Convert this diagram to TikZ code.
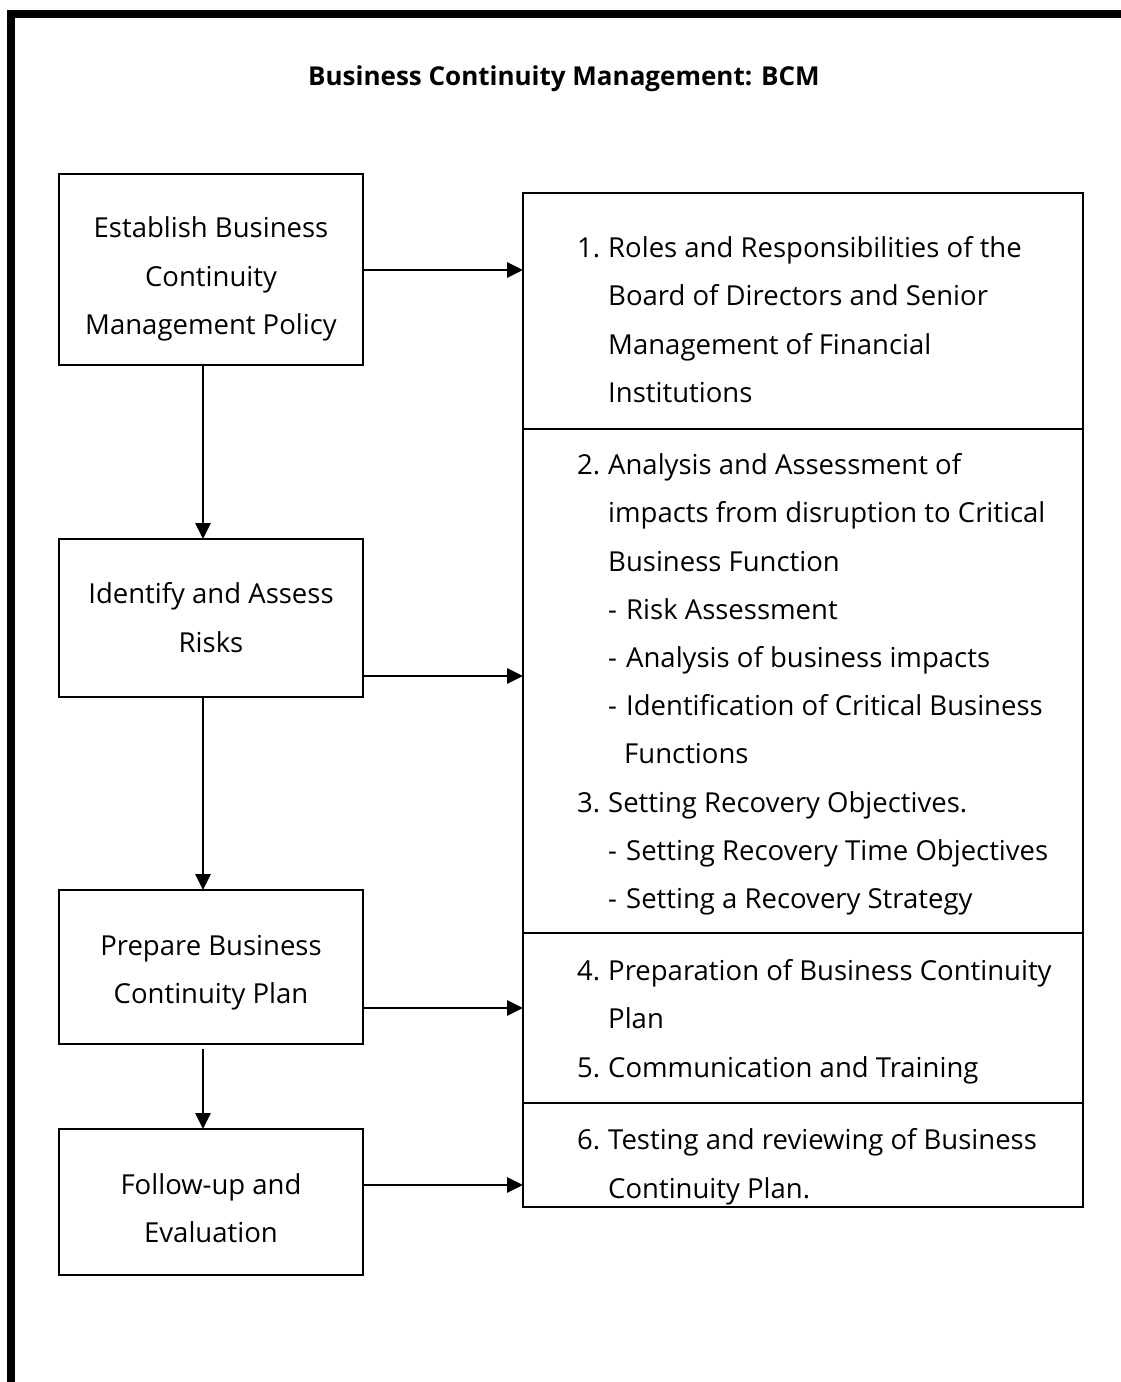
\documentclass[tikz,border=0pt]{standalone}
\usepackage{fontspec}
\setmainfont{Open Sans}
\usetikzlibrary{arrows.meta,calc}
\newcommand\mynumbox[1]{\makebox[31pt][l]{#1}}
\newcommand\mydashbox{\makebox[18pt][l]{-}}
\begin{document}
\begin{tikzpicture}[x=1pt,y=-1pt,
  box/.style={draw, line width=2.6pt, anchor=north west, inner sep=0pt, outer sep=0pt},
  arr/.style={line width=2.8pt, -{Triangle[length=16pt,width=15pt]}},
  txt/.style={anchor=base west, inner sep=0pt, font=\fontsize{27.5}{32}\selectfont},
  ctxt/.style={anchor=base, inner sep=0pt, font=\fontsize{27.5}{32}\selectfont}]
\useasboundingbox (0,0) rectangle (1121,1382);
\fill[white] (0,0) rectangle (1121,1382);
\draw[line width=8pt] (11,1400) -- (11,14) -- (1130,14);

\node[anchor=base, inner sep=0pt, font=\fontsize{26}{32}\selectfont\bfseries] (title) at (564,85) {Business Continuity Management: BCM};

% left boxes
\node[box, minimum width=304pt, minimum height=191pt] (b1) at (59,174) {};
\node[box, minimum width=304pt, minimum height=158pt] (b2) at (59,539) {};
\node[box, minimum width=304pt, minimum height=154pt] (b3) at (59,890) {};
\node[box, minimum width=304pt, minimum height=146pt] (b4) at (59,1129) {};

\node[ctxt] (b1l1) at (211,237) {Establish Business};
\node[ctxt] (b1l2) at (211,286) {Continuity};
\node[ctxt] (b1l3) at (211,334) {Management Policy};
\node[ctxt] (b2l1) at (211,603) {Identify and Assess};
\node[ctxt] (b2l2) at (211,652) {Risks};
\node[ctxt] (b3l1) at (211,955) {Prepare Business};
\node[ctxt] (b3l2) at (211,1003) {Continuity Plan};
\node[ctxt] (b4l1) at (211,1194) {Follow-up and};
\node[ctxt] (b4l2) at (211,1242) {Evaluation};

% right boxes
\node[box, minimum width=560pt, minimum height=236pt] (r1) at (523,193) {};
\node[box, minimum width=560pt, minimum height=504pt] (r2) at (523,429) {};
\node[box, minimum width=560pt, minimum height=170pt] (r3) at (523,933) {};
\node[box, minimum width=560pt, minimum height=104pt] (r4) at (523,1103) {};

\node[txt] (s1a) at (577,257) {\mynumbox{1.}Roles and Responsibilities of the};
\node[txt] (s1b) at (608,305) {Board of Directors and Senior};
\node[txt] (s1c) at (608,354) {Management of Financial};
\node[txt] (s1d) at (608,402) {Institutions};

\node[txt] (s2a) at (577,474) {\mynumbox{2.}Analysis and Assessment of};
\node[txt] (s2b) at (608,522) {impacts from disruption to Critical};
\node[txt] (s2c) at (608,571) {Business Function};
\node[txt] (s2d) at (608,619) {\mydashbox Risk Assessment};
\node[txt] (s2e) at (608,667) {\mydashbox Analysis of business impacts};
\node[txt] (s2f) at (608,715) {\mydashbox Identification of Critical Business};
\node[txt] (s2g) at (624,763) {Functions};
\node[txt] (s3a) at (577,812) {\mynumbox{3.}Setting Recovery Objectives.};
\node[txt] (s3b) at (608,860) {\mydashbox Setting Recovery Time Objectives};
\node[txt] (s3c) at (608,908) {\mydashbox Setting a Recovery Strategy};

\node[txt] (s4a) at (577,980) {\mynumbox{4.}Preparation of Business Continuity};
\node[txt] (s4b) at (608,1028) {Plan};
\node[txt] (s5a) at (577,1077) {\mynumbox{5.}Communication and Training};

\begin{scope}
\clip (r4.north west) rectangle (r4.south east);
\node[txt] (s6a) at (577,1149) {\mynumbox{6.}Testing and reviewing of Business};
\node[txt] (s6b) at (608,1198) {Continuity Plan.};
\end{scope}

% vertical connectors
\coordinate (vx) at (203,0);
\draw[arr] (b1.south -| vx) -- (b2.north -| vx);
\draw[arr] (b2.south -| vx) -- (b3.north -| vx);
\draw[arr] ([yshift=-5pt]b3.south -| vx) -- (b4.north -| vx);

% horizontal connectors
\coordinate (h1) at (0,270);
\coordinate (h2) at (0,676);
\coordinate (h3) at (0,1008);
\coordinate (h4) at (0,1185);
\draw[arr] (b1.east |- h1) -- (r1.west |- h1);
\draw[arr] (b2.east |- h2) -- (r2.west |- h2);
\draw[arr] (b3.east |- h3) -- (r3.west |- h3);
\draw[arr] (b4.east |- h4) -- (r4.west |- h4);
\end{tikzpicture}
\end{document}
